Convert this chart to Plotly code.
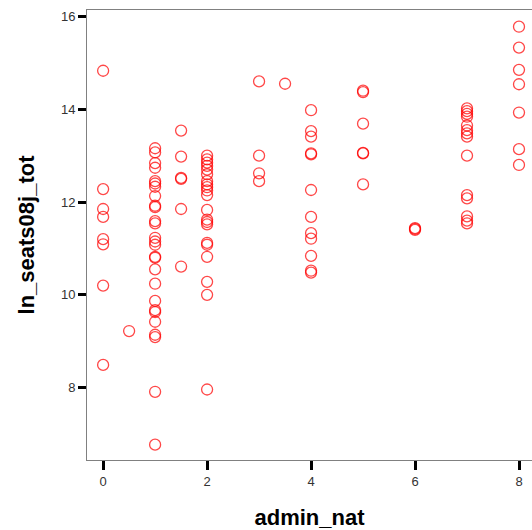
import plotly.graph_objects as go

admin_nat = (
    [0] * 8
    + [0.5]
    + [1] * 27
    + [1.5] * 6
    + [2] * 21
    + [3] * 4
    + [3.5]
    + [4] * 12
    + [5] * 6
    + [6] * 3
    + [7] * 14
    + [8] * 7
)

ln_seats08j_tot = (
    # admin_nat = 0
    [14.83, 12.28, 11.85, 11.68, 11.20, 11.09, 10.20, 8.49]
    # 0.5
    + [9.22]
    # 1
    + [13.16, 13.07, 12.84, 12.74, 12.45, 12.40, 12.33, 12.13, 11.92, 11.89,
       11.59, 11.54, 11.23, 11.15, 11.08, 10.82, 10.80, 10.55, 10.24, 9.87,
       9.67, 9.63, 9.42, 9.14, 9.09, 7.91, 6.77]
    # 1.5
    + [13.54, 12.98, 12.52, 12.50, 11.85, 10.61]
    # 2
    + [13.00, 12.92, 12.85, 12.78, 12.70, 12.45, 12.38, 12.32, 12.25, 12.15,
       11.83, 11.62, 11.57, 11.52, 11.12, 11.08, 10.82, 10.28, 10.00, 7.96,
       12.60]
    # 3
    + [14.60, 13.00, 12.62, 12.45]
    # 3.5
    + [14.55]
    # 4
    + [13.98, 13.53, 13.41, 13.05, 13.03, 12.26, 11.68, 11.33, 11.21, 10.84,
       10.52, 10.48]
    # 5
    + [14.40, 14.37, 13.69, 13.06, 13.05, 12.38]
    # 6
    + [11.44, 11.42, 11.40]
    # 7
    + [14.02, 13.96, 13.90, 13.84, 13.65, 13.55, 13.48, 13.41, 13.00, 12.15,
       12.08, 11.69, 11.60, 11.54]
    # 8
    + [15.78, 15.33, 14.85, 14.54, 13.93, 13.14, 12.80]
)

x_ticks = [0, 2, 4, 6, 8]
y_ticks = [8, 10, 12, 14, 16]

fig = go.Figure(
    go.Scatter(
        x=admin_nat,
        y=ln_seats08j_tot,
        mode="markers",
        marker=dict(
            symbol="circle-open",
            size=11,
            color="rgba(255,0,0,0.72)",
            line=dict(width=1.3, color="rgba(255,0,0,0.72)"),
        ),
        hoverinfo="skip",
    )
)

axis_font = dict(family="Liberation Sans, Arial, sans-serif", size=13, color="#333333")
title_font = dict(family="Liberation Sans, Arial, sans-serif", size=22, color="#000000")

fig.update_layout(
    width=532,
    height=530,
    margin=dict(l=87, r=0, t=10, b=70),
    paper_bgcolor="white",
    plot_bgcolor="white",
    showlegend=False,
    xaxis=dict(
        range=[-0.31, 8.25],
        tickvals=x_ticks,
        ticktext=[str(v) for v in x_ticks],
        ticks="outside",
        ticklen=9,
        tickwidth=3,
        tickcolor="black",
        showgrid=False,
        zeroline=False,
        showline=True,
        linecolor="#808080",
        linewidth=1,
        mirror=True,
        tickfont=axis_font,
        title=dict(text="<b>admin_nat</b>", font=title_font, standoff=24),
        automargin=False,
    ),
    yaxis=dict(
        range=[6.44, 16.14],
        tickvals=y_ticks,
        ticktext=[str(v) for v in y_ticks],
        ticks="outside",
        ticklen=8,
        tickwidth=3,
        tickcolor="black",
        showgrid=False,
        zeroline=False,
        showline=True,
        linecolor="#808080",
        linewidth=1,
        mirror=False,
        tickfont=axis_font,
        title=dict(text="<b>ln_seats08j_tot</b>", font=title_font, standoff=20),
        automargin=False,
    ),
)

page_fix = (
    "document.documentElement.style.margin='0';"
    "document.documentElement.style.overflow='hidden';"
    "document.body.style.margin='0';"
    "document.body.style.overflow='hidden';"
)

fig.write_html(
    "out.html",
    config={"displayModeBar": False},
    post_script=page_fix,
)
